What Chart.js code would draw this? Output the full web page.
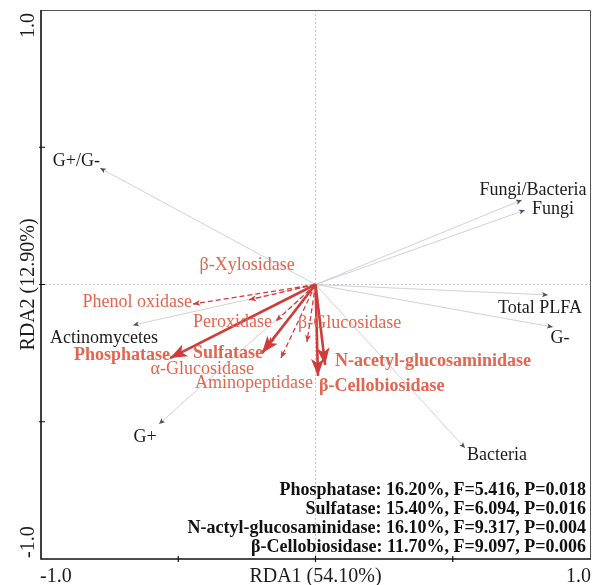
<!DOCTYPE html>
<html>
<head>
<meta charset="utf-8">
<script src="https://cdn.jsdelivr.net/npm/chart.js@4.4.1/dist/chart.umd.min.js"></script>
<style>
html, body { margin: 0; padding: 0; background: #fff; }
#rda { display: block; }
</style>
</head>
<body>
<canvas id="rda" width="601" height="585"></canvas>
<script>
// microbial groups (response variables)
const speciesNames = ['G+/G-', 'Fungi/Bacteria', 'Fungi', 'Total PLFA', 'G-', 'Bacteria', 'Actinomycetes', 'G+'];
const speciesRDA1 = [-0.785, 0.752, 0.763, 0.847, 0.865, 0.545, -0.665, -0.570];
const speciesRDA2 = [0.424, 0.308, 0.271, -0.038, -0.155, -0.596, -0.148, -0.508];

// enzymes (explanatory variables), significant ones drawn solid + bold
const enzymeNames = ['β-Xylosidase', 'Phenol oxidase', 'Peroxidase', 'β-Glucosidase', 'α-Glucosidase', 'Aminopeptidase',
	'Phosphatase', 'Sulfatase', 'N-acetyl-glucosaminidase', 'β-Cellobiosidase'];
const enzymeRDA1 = [-0.242, -0.446, -0.144, -0.031, -0.172, -0.126, -0.530, -0.195, 0.035, 0.009];
const enzymeRDA2 = [-0.056, -0.071, -0.133, -0.209, -0.217, -0.268, -0.268, -0.250, -0.293, -0.333];
const enzymeSignificant = [false, false, false, false, false, false, true, true, true, true];

// forward selection results
const sigNames = ['Phosphatase', 'Sulfatase', 'N-actyl-glucosaminidase', 'β-Cellobiosidase'];
const sigExplained = [16.20, 15.40, 16.10, 11.70];
const sigF = [5.416, 6.094, 9.317, 9.097];
const sigP = [0.018, 0.016, 0.004, 0.006];

const tickValues = [-0.5, 0, 0.5];
const axisMinLabel = '-1.0';
const axisMaxLabel = '1.0';
const xTitle = 'RDA1 (54.10%)';
const yTitle = 'RDA2 (12.90%)';

// label placement next to the arrow tips: [dx, dy, align]
const speciesLabelPos = [[0, -7, 'right'], [11, -10, 'center'], [7, -1, 'left'], [-8, 13, 'center'],
	[7, 11, 'center'], [2, 7, 'left'], [-29, 13, 'center'], [-14, 13, 'center']];
const enzymeLabelPos = [[-2, -35, 'center'], [-1, -2, 'right'], [-4, 1, 'right'], [-9, -19, 'left'],
	[-66, 25, 'center'], [32, 25, 'right'], [0, -3, 'right'], [1, 0, 'right'], [10, -4, 'left'], [1, 10, 'left']];

const serif = '"Liberation Serif", "Times New Roman", serif';
const arrowRed = '#d03c3a';
const labelRed = '#e2664f';

const datasets = [];
enzymeNames.forEach((name, i) => {
	if (!enzymeSignificant[i]) return;
	datasets.push({
		label: name, group: 'enzyme', idx: i, solid: true,
		data: [{ x: 0, y: 0 }, { x: enzymeRDA1[i], y: enzymeRDA2[i] }],
		showLine: true, borderColor: arrowRed, borderWidth: 2.6, pointRadius: 0
	});
});
enzymeNames.forEach((name, i) => {
	if (enzymeSignificant[i]) return;
	datasets.push({
		label: name, group: 'enzyme', idx: i, solid: false,
		data: [{ x: 0, y: 0 }, { x: enzymeRDA1[i], y: enzymeRDA2[i] }],
		showLine: true, borderColor: arrowRed, borderWidth: 1.3, borderDash: [5, 3], pointRadius: 0
	});
});
speciesNames.forEach((name, i) => {
	datasets.push({
		label: name, group: 'species', idx: i,
		data: [{ x: 0, y: 0 }, { x: speciesRDA1[i], y: speciesRDA2[i] }],
		showLine: true, borderColor: '#cbcbd4', borderWidth: 0.9, pointRadius: 0
	});
});

function arrowHead(ctx, fx, fy, tx, ty, len, half, color) {
	const ang = Math.atan2(ty - fy, tx - fx);
	const bx = tx - Math.cos(ang) * len, by = ty - Math.sin(ang) * len;
	const nx = -Math.sin(ang) * half, ny = Math.cos(ang) * half;
	ctx.fillStyle = color;
	ctx.beginPath();
	ctx.moveTo(tx, ty);
	ctx.lineTo(bx + nx, by + ny);
	ctx.lineTo(tx - Math.cos(ang) * len * 0.75, ty - Math.sin(ang) * len * 0.75);
	ctx.lineTo(bx - nx, by - ny);
	ctx.closePath();
	ctx.fill();
}

const rdaDecor = {
	id: 'rdaDecor',
	beforeDatasetsDraw(chart) {
		const { ctx, chartArea: a, scales: { x, y } } = chart;
		const x0 = x.getPixelForValue(0), y0 = y.getPixelForValue(0);
		ctx.save();
		ctx.strokeStyle = '#c6c6c6';
		ctx.lineWidth = 1;
		ctx.setLineDash([2, 2]);
		ctx.beginPath();
		ctx.moveTo(x0, a.top); ctx.lineTo(x0, a.bottom);
		ctx.moveTo(a.left, y0); ctx.lineTo(a.right, y0);
		ctx.stroke();
		ctx.restore();
	},
	afterDatasetsDraw(chart) {
		const { ctx } = chart;
		ctx.save();
		chart.data.datasets.forEach((ds, di) => {
			const pts = chart.getDatasetMeta(di).data;
			const o = pts[0], t = pts[1];
			let pos;
			if (ds.group === 'species') {
				arrowHead(ctx, o.x, o.y, t.x, t.y, 6, 2.6, '#4e4a6c');
				pos = speciesLabelPos[ds.idx];
				ctx.fillStyle = '#1c1c1c';
				ctx.font = '18px ' + serif;
			} else if (ds.solid) {
				arrowHead(ctx, o.x, o.y, t.x, t.y, 17, 6.5, arrowRed);
				pos = enzymeLabelPos[ds.idx];
				ctx.fillStyle = labelRed;
				ctx.font = 'bold 18px ' + serif;
			} else {
				arrowHead(ctx, o.x, o.y, t.x, t.y, 7, 3, arrowRed);
				pos = enzymeLabelPos[ds.idx];
				ctx.fillStyle = labelRed;
				ctx.font = '18px ' + serif;
			}
			ctx.textAlign = pos[2];
			ctx.textBaseline = 'middle';
			ctx.fillText(ds.label, t.x + pos[0], t.y + pos[1]);
		});
		ctx.restore();
	},
	afterDraw(chart) {
		const { ctx, chartArea: a, scales: { x, y } } = chart;
		ctx.save();
		// frame
		ctx.strokeStyle = '#555';
		ctx.lineWidth = 1;
		ctx.beginPath();
		ctx.moveTo(a.left, a.top + 0.5); ctx.lineTo(a.right + 0.5, a.top + 0.5); ctx.lineTo(a.right + 0.5, a.bottom);
		ctx.stroke();
		ctx.strokeStyle = '#111';
		ctx.lineWidth = 1.6;
		ctx.beginPath();
		ctx.moveTo(a.left, a.top); ctx.lineTo(a.left, a.bottom); ctx.lineTo(a.right + 1, a.bottom);
		ctx.stroke();
		// ticks
		ctx.lineWidth = 1.2;
		ctx.beginPath();
		tickValues.forEach((v) => {
			const px = x.getPixelForValue(v), py = y.getPixelForValue(v);
			ctx.moveTo(px, a.bottom - 3); ctx.lineTo(px, a.bottom + 3);
			ctx.moveTo(a.left - 2, py); ctx.lineTo(a.left + 4, py);
		});
		ctx.stroke();
		// tick labels + titles
		ctx.fillStyle = '#1c1c1c';
		ctx.font = '20px ' + serif;
		ctx.textBaseline = 'alphabetic';
		const base = 582;
		ctx.textAlign = 'left';
		ctx.fillText(axisMinLabel, x.getPixelForValue(-1) - 1, base);
		ctx.textAlign = 'right';
		ctx.fillText(axisMaxLabel, x.getPixelForValue(1) + 1, base);
		ctx.textAlign = 'center';
		ctx.fillText(xTitle, (a.left + a.right) / 2, base);

		ctx.translate(34, 0);
		ctx.rotate(-Math.PI / 2);
		ctx.textAlign = 'right';
		ctx.fillText(axisMaxLabel, -y.getPixelForValue(1) - 3, 0);
		ctx.textAlign = 'left';
		ctx.fillText(axisMinLabel, -y.getPixelForValue(-1) + 1, 0);
		ctx.textAlign = 'center';
		ctx.fillText(yTitle, -(a.top + a.bottom) / 2, 0);
		ctx.setTransform(1, 0, 0, 1, 0, 0);

		// selection stats
		ctx.font = 'bold 18px ' + serif;
		ctx.fillStyle = '#111';
		ctx.textAlign = 'right';
		sigNames.forEach((name, i) => {
			const line = `${name}: ${sigExplained[i].toFixed(2)}%, F=${sigF[i].toFixed(3)}, P=${sigP[i].toFixed(3)}`;
			ctx.fillText(line, a.right - 4, 495 + i * 19);
		});
		ctx.restore();
	}
};

new Chart(document.getElementById('rda'), {
	type: 'scatter',
	data: { datasets },
	options: {
		responsive: false,
		animation: false,
		layout: { padding: { left: 41, top: 10, right: 11, bottom: 26 } },
		plugins: { legend: { display: false }, tooltip: { enabled: false } },
		scales: {
			x: { type: 'linear', min: -1, max: 1, display: false },
			y: { type: 'linear', min: -1, max: 1, display: false }
		}
	},
	plugins: [rdaDecor]
});
</script>
</body>
</html>
